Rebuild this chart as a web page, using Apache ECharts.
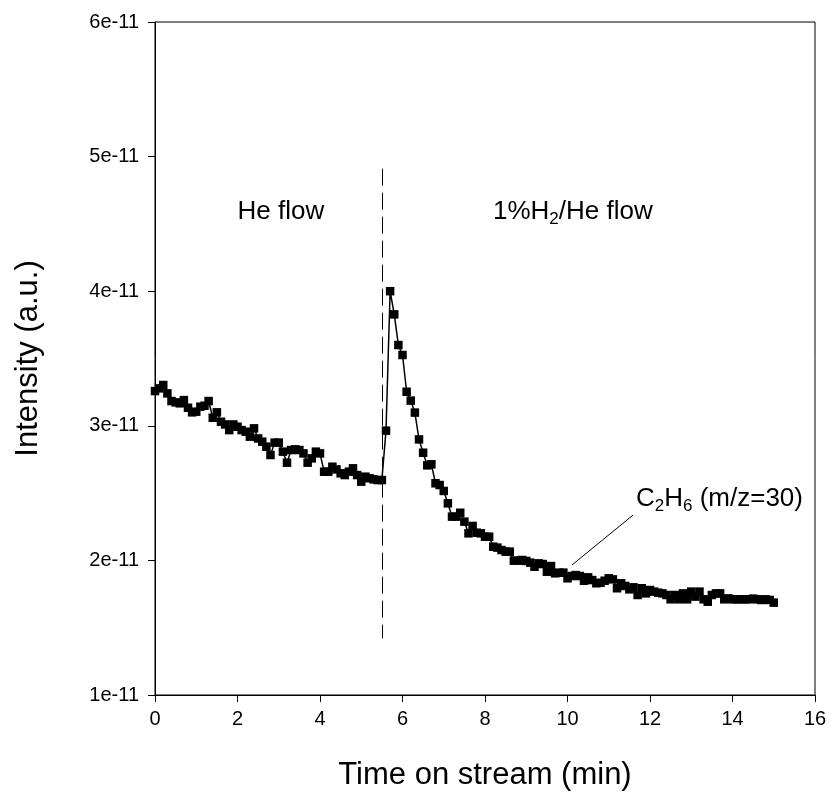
<!DOCTYPE html>
<html><head><meta charset="utf-8">
<script src="https://cdn.jsdelivr.net/npm/echarts@6/dist/echarts.min.js"></script>
<style>html,body{margin:0;padding:0;background:#fff}#c{width:832px;height:804px}</style>
</head><body><div id="c"></div>
<script>
// Time on stream (min)
const timeMin = [
 0.0,0.1,0.2,0.3,0.4,0.5,0.6,0.7,0.8,0.9,
 1.0,1.1,1.2,1.3,1.4,1.5,1.6,1.7,1.8,1.9,
 2.0,2.1,2.2,2.3,2.4,2.5,2.6,2.7,2.8,2.9,
 3.0,3.1,3.2,3.3,3.4,3.5,3.6,3.7,3.8,3.9,
 4.0,4.1,4.2,4.3,4.4,4.5,4.6,4.7,4.8,4.9,
 5.0,5.1,5.2,5.3,5.4,5.5,5.6,5.7,5.8,5.9,
 6.0,6.1,6.2,6.3,6.4,6.5,6.6,6.7,6.8,6.9,
 7.0,7.1,7.2,7.3,7.4,7.5,7.6,7.7,7.8,7.9,
 8.0,8.1,8.2,8.3,8.4,8.5,8.6,8.7,8.8,8.9,
 9.0,9.1,9.2,9.3,9.4,9.5,9.6,9.7,9.8,9.9,
 10.0,10.1,10.2,10.3,10.4,10.5,10.6,10.7,10.8,10.9,
 11.0,11.1,11.2,11.3,11.4,11.5,11.6,11.7,11.8,11.9,
 12.0,12.1,12.2,12.3,12.4,12.5,12.6,12.7,12.8,12.9,
 13.0,13.1,13.2,13.3,13.4,13.5,13.6,13.7,13.8,13.9,
 14.0,14.1,14.2,14.3,14.4,14.5,14.6,14.7,14.8,14.9,
 15.0
];
// C2H6 (m/z=30) intensity, in units of 1e-11 a.u.
const intensityE11 = [
 3.258,3.278,3.303,3.241,3.184,3.174,3.167,3.191,3.134,3.100,
 3.105,3.142,3.149,3.184,3.060,3.100,3.030,3.010,2.968,3.010,
 2.993,2.968,2.956,2.919,2.981,2.906,2.882,2.845,2.783,2.875,
 2.875,2.808,2.726,2.820,2.825,2.820,2.795,2.726,2.758,2.808,
 2.795,2.659,2.659,2.696,2.676,2.647,2.634,2.659,2.684,2.634,
 2.585,2.622,2.610,2.602,2.597,2.597,2.964,4.000,3.828,3.600,
 3.526,3.253,3.187,3.098,2.899,2.800,2.706,2.714,2.573,2.560,
 2.516,2.424,2.325,2.325,2.354,2.288,2.201,2.256,2.206,2.201,
 2.176,2.176,2.102,2.095,2.077,2.065,2.065,1.998,1.998,2.003,
 1.996,1.983,1.953,1.978,1.973,1.916,1.958,1.904,1.909,1.909,
 1.867,1.884,1.891,1.884,1.849,1.874,1.854,1.830,1.834,1.849,
 1.867,1.859,1.793,1.830,1.810,1.785,1.800,1.743,1.793,1.755,
 1.780,1.768,1.760,1.755,1.743,1.711,1.743,1.711,1.755,1.711,
 1.768,1.731,1.768,1.711,1.693,1.743,1.755,1.755,1.711,1.718,
 1.711,1.711,1.711,1.711,1.711,1.716,1.711,1.706,1.711,1.706,
 1.686
];
// axis ranges
const xRange = [0, 16, 2];
const yRangeE11 = [1, 6, 1];
// flow-switch marker (time, from, to)
const switchTime = 5.5;
const switchSpan = [4.91, 1.42];
// annotation anchors [time, intensity e-11]
const heFlowAt = [3.05, 4.59];
const h2FlowAt = [10.13, 4.59];
const seriesLabelAt = [11.66, 2.46];
const leaderLine = [[10.11, 1.966], [11.59, 2.337]];

const FONT = '"Liberation Sans", Arial, sans-serif';
const chart = echarts.init(document.getElementById('c'), null, {renderer: 'canvas'});
const pts = timeMin.map((t, i) => [t, intensityE11[i]]);

chart.setOption({
  animation: false,
  backgroundColor: '#fff',
  grid: {left: 155, right: 17, top: 22, bottom: 109, show: true, borderColor: '#000', borderWidth: 1, backgroundColor: 'transparent'},
  xAxis: {
    type: 'value', min: xRange[0], max: xRange[1], interval: xRange[2],
    name: 'Time on stream (min)', nameLocation: 'middle', nameGap: 65,
    nameTextStyle: {fontFamily: FONT, fontSize: 31, color: '#000'},
    axisLine: {lineStyle: {color: '#000', width: 1}},
    axisTick: {inside: false, length: 7, lineStyle: {color: '#000'}},
    axisLabel: {fontFamily: FONT, fontSize: 20, color: '#000', margin: 14},
    splitLine: {show: false}
  },
  yAxis: {
    type: 'value', min: yRangeE11[0], max: yRangeE11[1], interval: yRangeE11[2],
    name: 'Intensity (a.u.)', nameLocation: 'middle', nameGap: 111, nameRotate: 90,
    nameTextStyle: {fontFamily: FONT, fontSize: 31, color: '#000'},
    axisLine: {lineStyle: {color: '#000', width: 1}},
    axisTick: {inside: false, length: 7, lineStyle: {color: '#000'}},
    axisLabel: {fontFamily: FONT, fontSize: 20, color: '#000', margin: 16, formatter: v => v + 'e-11'},
    splitLine: {show: false}
  },
  series: [{
    type: 'line', data: pts, symbol: 'rect', symbolSize: 8.5,
    itemStyle: {color: '#000'}, lineStyle: {color: '#000', width: 1.5},
    z: 3,
    markLine: {
      silent: true, symbol: 'none', animation: false,
      label: {show: false},
      data: [
        [{coord: [switchTime, switchSpan[0]], lineStyle: {type: [17, 7], color: '#000', width: 1}},
         {coord: [switchTime, switchSpan[1]]}],
        [{coord: leaderLine[0], lineStyle: {type: 'solid', color: '#000', width: 1}},
         {coord: leaderLine[1]}]
      ]
    }
  }]
});

function px(p) { return chart.convertToPixel({gridIndex: 0}, p); }
const a = px(heFlowAt), b = px(h2FlowAt), c = px(seriesLabelAt);
const rich = {
  n: {fontFamily: FONT, fontSize: 26, color: '#000'},
  s: {fontFamily: FONT, fontSize: 17, color: '#000', verticalAlign: 'bottom', padding: [16, 0, 0, 0]}
};
chart.setOption({
  graphic: [
    {type: 'text', x: a[0], y: a[1], style: {text: 'He flow', font: '26px ' + FONT, fill: '#000', align: 'center', verticalAlign: 'middle'}},
    {type: 'text', x: b[0], y: b[1], style: {text: '{n|1%H}{s|2}{n|/He flow}', rich: rich, align: 'center', verticalAlign: 'middle'}},
    {type: 'text', x: c[0], y: c[1], style: {text: '{n|C}{s|2}{n|H}{s|6}{n| (m/z=30)}', rich: rich, align: 'left', verticalAlign: 'middle'}}
  ]
});
</script></body></html>
